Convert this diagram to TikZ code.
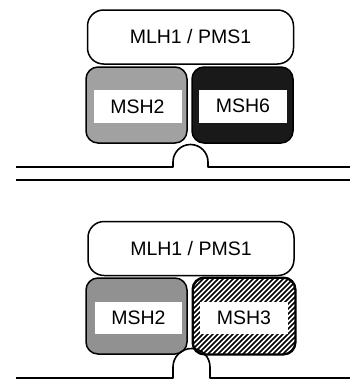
\documentclass[tikz,border=0pt]{standalone}
\usepackage{fontspec}
\setmainfont{Liberation Sans}
\begin{document}
\begin{tikzpicture}[x=1pt,y=-1pt,
  outline/.style={draw=black,line width=1.5pt},
  capbox/.style={outline,fill=white,rounded corners=16pt,minimum width=206pt,minimum height=54pt,inner sep=0pt,font=\fontsize{19.5}{21}\selectfont},
  subunit/.style={outline,rounded corners=12pt,minimum width=101pt,minimum height=76pt,inner sep=0pt},
  tag/.style={fill=white,minimum width=88pt,minimum height=33pt,inner sep=0pt,font=\fontsize{19.5}{21}\selectfont},
  strand/.style={line width=1.6pt,line join=round}]
\useasboundingbox (0,0) rectangle (350,388);

% upper complex: MutL-alpha on MutS-alpha
\node[capbox] (mlhA) at (190.5,37) {MLH1 / PMS1};
\node[subunit,fill=black!37] (msh2A) at (136.5,105) {};
\node[subunit,fill=black!90] (msh6A) at (242.5,105) {};
\node[tag] (t2A) at (137.5,106.5) {MSH2};
\node[tag] (t6A) at (243,106) {MSH6};

% upper DNA duplex with the mismatch loop
\draw[strand] (16,167) -- (173,167) -- (173,162) arc[start angle=180,end angle=360,radius=17.5] -- (208,167) -- (350,167);
\draw[strand] (16,180) -- (350,180);

% lower complex: MutL-alpha on MutS-beta
\node[capbox] (mlhB) at (191,248.5) {MLH1 / PMS1};
\node[subunit,fill=black!43] (msh2B) at (136.5,316) {};
\node[subunit,minimum width=102pt] (msh3B) at (244,316) {};
\begin{scope}
  \clip[rounded corners=12pt] (msh3B.north west) rectangle (msh3B.south east);
  \foreach \k in {-100,-95,...,120}
    \draw[line width=1.7pt] (193+\k,354) -- (193+\k+80,274);
\end{scope}
\draw[outline,rounded corners=12pt] (msh3B.north west) rectangle (msh3B.south east);
\node[tag,minimum width=87pt,minimum height=32pt] (t2B) at (138.5,318) {MSH2};
\node[tag,minimum height=32pt] (t3B) at (244,318) {MSH3};

% lower DNA strand with the loop
\draw[strand] (16,378) -- (173,378) -- (173,367) arc[start angle=180,end angle=360,radius=18.5] -- (210,378) -- (350,378);
\end{tikzpicture}
\end{document}
